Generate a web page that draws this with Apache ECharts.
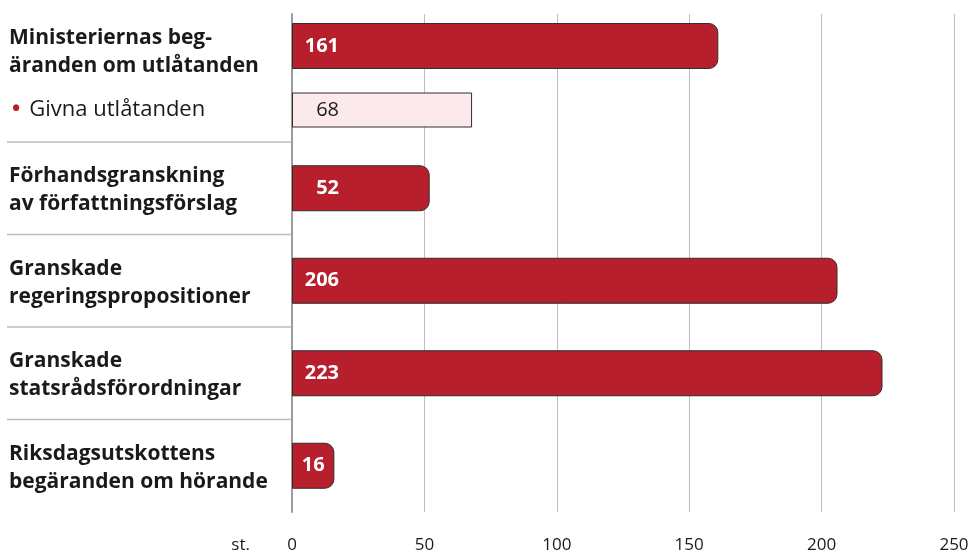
<!DOCTYPE html>
<html>
<head>
<meta charset="utf-8">
<script src="https://cdn.jsdelivr.net/npm/echarts@6.0.0/dist/echarts.min.js"></script>
<style>
  html, body { margin: 0; padding: 0; background: #fff; }
  #chart { width: 980px; height: 557px; }
</style>
</head>
<body>
<div id="chart"></div>
<script>
// översta gruppen: begäranden + givna utlåtanden
var topCategories = ['Ministeriernas beg-\näranden om utlåtanden', 'Givna utlåtanden'];
var requestValues = [161, null];
var givenValues = [null, 68];

// övriga rader
var restCategories = [
  'Förhandsgranskning\nav författningsförslag',
  'Granskade\nregeringspropositioner',
  'Granskade\nstatsrådsförordningar',
  'Riksdagsutskottens\nbegäranden om hörande'
];
var restValues = [52, 206, 223, 16];

var xTicks = [0, 50, 100, 150, 200, 250];
var unitName = 'st.';

var red = '#b71f2d';
var pink = '#fbe9eb';
var border = '#2e2e2e';
var gridColor = '#bdbdbd';
var axisColor = '#9c9c9c';
var textColor = '#1a1a1a';
var font = 'Open Sans';

var chart = echarts.init(document.getElementById('chart'));

function barLabel(color, weight) {
  return {
    show: true,
    position: [47, '50%'],
    align: 'right',
    verticalAlign: 'middle',
    color: color,
    fontFamily: font,
    fontWeight: weight,
    fontSize: 20
  };
}

// korta staplar får etiketten centrerad
function toItems(values) {
  return values.map(function (v) {
    if (v !== null && v < 20) {
      return { value: v, label: { position: 'inside', align: 'center' } };
    }
    return v;
  });
}

function catAxis(grid, data, show, shift) {
  return {
    type: 'category',
    gridIndex: grid,
    inverse: true,
    data: data,
    show: show,
    axisLine: { show: true, lineStyle: { color: axisColor, width: 2 } },
    axisTick: { show: false },
    axisLabel: {
      align: 'left',
      margin: 283,
      fontFamily: font,
      fontSize: 21,
      fontWeight: 'bold',
      lineHeight: 28,
      color: textColor,
      formatter: function (v) {
        if (v === 'Givna utlåtanden') return '{dot|•}{sub|' + v + '}';
        return '{main|' + v.split('\n').join('}\n{main|') + '}';
      },
      rich: {
        main: {
          fontFamily: font, fontSize: 21, fontWeight: 'bold', color: textColor,
          lineHeight: 28, padding: [shift, 0, 0, 0]
        },
        dot: { color: red, fontSize: 22, fontFamily: font, padding: [0, 9, 0, 3] },
        sub: { color: textColor, fontSize: 22, fontFamily: font, fontWeight: 'normal' }
      }
    }
  };
}

function valAxis(grid, showLabels) {
  return {
    type: 'value',
    gridIndex: grid,
    min: xTicks[0],
    max: xTicks[xTicks.length - 1],
    interval: xTicks[1] - xTicks[0],
    axisLine: { show: false },
    axisTick: { show: false },
    splitLine: { show: true, lineStyle: { color: gridColor, width: 1 } },
    axisLabel: {
      show: showLabels,
      margin: 25,
      fontFamily: font,
      fontSize: 17,
      color: textColor
    },
    name: showLabels ? unitName : '',
    nameLocation: 'start',
    nameGap: 42,
    nameTextStyle: {
      fontFamily: font,
      fontSize: 17,
      color: textColor,
      verticalAlign: 'top',
      padding: [25, 0, 0, 0]
    }
  };
}

var option = {
  animation: false,
  grid: [
    { left: 292, right: 26, top: 14, height: 128 },
    { left: 292, right: 26, top: 142, height: 370 }
  ],
  xAxis: [valAxis(0, false), valAxis(1, true)],
  yAxis: [
    catAxis(0, topCategories, true, 12),
    catAxis(0, topCategories, false, 0),
    catAxis(1, restCategories, true, 4)
  ],
  series: [
    {
      type: 'bar',
      xAxisIndex: 0,
      yAxisIndex: 0,
      barWidth: 46,
      data: requestValues,
      itemStyle: { color: red, borderColor: border, borderWidth: 1, borderRadius: [0, 9, 9, 0] },
      label: barLabel('#fff', 'bold')
    },
    {
      type: 'bar',
      xAxisIndex: 0,
      yAxisIndex: 1,
      barWidth: 35,
      data: givenValues,
      itemStyle: { color: pink, borderColor: border, borderWidth: 1 },
      label: barLabel(textColor, 'normal')
    },
    {
      type: 'bar',
      xAxisIndex: 1,
      yAxisIndex: 2,
      barWidth: 46,
      data: toItems(restValues),
      itemStyle: { color: red, borderColor: border, borderWidth: 1, borderRadius: [0, 9, 9, 0] },
      label: barLabel('#fff', 'bold')
    }
  ]
};

chart.setOption(option);

// skiljelinjer i etikettområdet, räknade från axelns band
var centers = restCategories.map(function (c, i) {
  return chart.convertToPixel({ yAxisIndex: 2 }, i);
});
var band = centers[1] - centers[0];
var sepY = [centers[0] - band / 2];
for (var i = 0; i < centers.length - 1; i++) {
  sepY.push((centers[i] + centers[i + 1]) / 2);
}
var axisX = chart.convertToPixel({ xAxisIndex: 1 }, 0);
chart.setOption({
  graphic: sepY.map(function (y) {
    return {
      type: 'line',
      shape: { x1: 7, y1: y, x2: axisX - 1, y2: y },
      style: { stroke: gridColor, lineWidth: 1.5 },
      silent: true
    };
  })
});
</script>
</body>
</html>
